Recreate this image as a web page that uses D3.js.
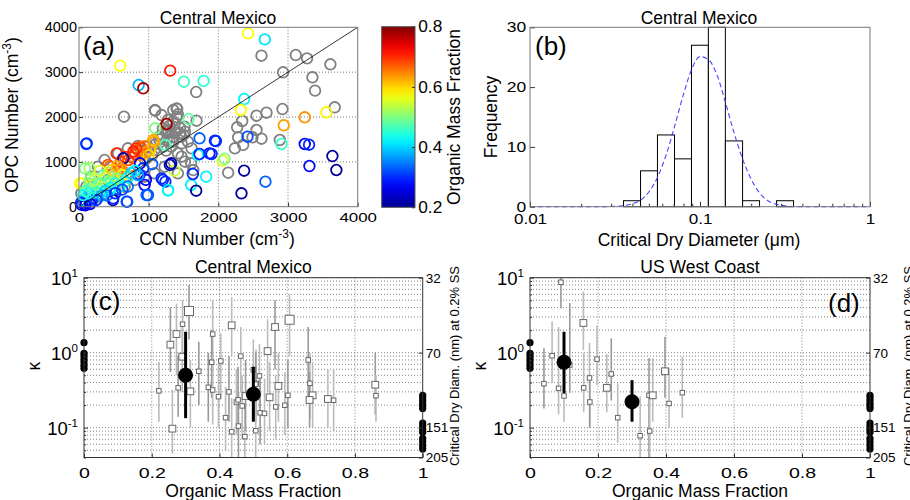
<!DOCTYPE html>
<html>
<head>
<meta charset="utf-8">
<script src="https://cdn.jsdelivr.net/npm/d3@7"></script>
<style>
  body { margin: 0; background: #fff; }
  svg text { font-family: "Liberation Sans", Arial, Helvetica, sans-serif; fill: #000; }
</style>
</head>
<body>
<script>
// ---------- data ----------

// panel (a): CCN vs OPC number, points with no organic fraction are grey
const grayPts = [
  [2619,3367],[3111,3382],[3273,3308],[3608,3175],[2929,2997],[3350,2885],[3388,2587],[2920,2178],
  [2691,2096],[2548,2029],[3670,2216],[2342,1911],[2270,1770],[2548,1710],[2284,1547],[2490,1547],
  [2619,1516],[2356,1376],[2237,1302],[2882,1487],[2141,758],[1682,2557],[645,2007],
  [1090,2155],[1185,2043],[1353,2155],[1401,2192],[1281,1672],[1448,1635],[1520,1672],[1472,1412],
  [1353,1449],[1257,1486],[1209,1337],[1472,1115],[1616,1300],[1640,817],[1520,1003],[1687,1917],
  [1094,2140],[1409,2178],[1419,2060],[1276,1933],[1204,1748],[1157,1561],[1372,1710],[1515,1784],
  [1467,1561],[1563,1450],[1324,1338],[1419,1190],[1085,1264],[989,1338],[846,1353],[702,1302],
  [559,1190],[368,1041],[272,892],[176,669],[105,446],[33,299],[1419,745],[1610,968],[1229,892],
  [1085,745],[942,669],[798,595],[655,446],[512,372],[368,299],[272,223],[607,669],[416,595],
  [1250,1700],[1300,1800],[1350,1900],[1400,2000],[1200,1600],[1150,1500],[1100,1400],[1350,1550],
  [1450,1750],[1380,1650],[1300,1450],[1250,1250],[1050,1150],[950,1050],[1000,1250],[900,1250],[1500,1600]
];
// [ccn, opc, organic mass fraction]
const colorPts = [
  [2428,3864,0.575],[2667,3730,0.41],[593,3144,0.575],[1309,3033,0.71],[1505,2787,0.46],[1788,2803,0.45],
  [856,2713,0.38],[922,2640,0.78],[2370,2401,0.42],[2323,2156,0.575],[1257,1844,0.78],[3240,1993,0.64],
  [3551,2105,0.58],[2939,1815,0.63],[1094,1748,0.5],[1573,1955,0.48],[105,1398,0.32],[1730,1525,0.33],
  [1965,1464,0.3],[2418,1561,0.32],[2906,1398,0.46],[3240,1398,0.28],[3302,1382,0.3],[3637,1130,0.21],
  [3694,818,0.21],[3307,907,0.28],[2370,803,0.21],[2332,299,0.21],[2676,557,0.33],[2060,1026,0.56],
  [2089,1070,0.5],[1706,1153,0.43],[1873,1190,0.28],[1730,1175,0.3],[1825,669,0.42],[1610,484,0.42],
  [1682,357,0.21],[1634,729,0.3],[1276,357,0.46],[1372,803,0.54],[1324,968,0.22],[1204,595,0.3],
  [1240,560,0.3],[942,484,0.28],[990,260,0.32],[692,111,0.32],[487,149,0.21],[43,521,0.575],
  [153,856,0.52],[540,1190,0.7],[416,930,0.68],[1061,1472,0.62],[1237,1376,0.47],[1950,1472,0.3],[1902,1175,0.3],
  [899,1302,0.67],[707,1041,0.68],[444,892,0.67],[636,781,0.66],[1066,1487,0.62],[1018,1264,0.6],
  [760,1100,0.69],[800,1180,0.7],[850,1250,0.68],[880,1330,0.68],[940,1350,0.66],[960,1210,0.63],
  [1000,1150,0.6],[880,1150,0.64],[820,1300,0.7],[780,1230,0.71],[660,1110,0.7],[600,1000,0.69],
  [1080,1440,0.63],[684,669,0.67],[560,820,0.66],[730,900,0.66],[500,750,0.68],
  [636,1079,0.22],[922,856,0.3],[875,968,0.26],[1305,930,0.22],[1186,632,0.3],[1281,372,0.42],
  [684,111,0.32],[492,187,0.3],[970,260,0.33],[444,372,0.42],[870,720,0.3],[960,600,0.27],[1050,950,0.33],
  [86,856,0.5],[14,521,0.575],[158,595,0.5],[229,521,0.52],[62,149,0.4],[110,1413,0.3],
  [100,100,0.3],[150,150,0.33],[80,60,0.28],[200,180,0.35],[250,250,0.36],[120,200,0.38],[180,120,0.3],
  [60,150,0.4],[300,300,0.42],[220,320,0.45],[280,400,0.48],[350,450,0.5],[400,500,0.52],[320,520,0.47],
  [260,480,0.5],[180,420,0.46],[220,600,0.54],[150,520,0.5],[380,650,0.55],[450,600,0.5],[500,700,0.52],
  [420,760,0.5],[350,700,0.48],[300,800,0.55],[480,820,0.6],[550,900,0.62],[600,850,0.64],[620,700,0.58],
  [550,620,0.5],[520,520,0.44],[450,420,0.42],[380,350,0.4],[330,250,0.38],[580,450,0.42],[650,550,0.46],
  [700,650,0.43],[750,750,0.4],[800,800,0.42],[850,700,0.37],[700,450,0.34],[620,380,0.32],[40,40,0.25],
  [30,90,0.3],[90,30,0.27],[160,60,0.26],[250,150,0.3],[400,250,0.34],[520,300,0.3],[140,300,0.42],
  [100,350,0.46],[60,260,0.44]
];
const axisTicksA = [0, 1000, 2000, 3000, 4000];
const cbTicks = [0.2, 0.4, 0.6, 0.8];

// panel (b): histogram of critical dry diameter (um)
const histEdges = [0.0355,0.0447,0.0562,0.0708,0.0891,0.112,0.141,0.178,0.224,0.282,0.355];
const histCounts = [1, 6, 12, 8, 27, 30, 11, 1, 0, 1];
const fitDiam = [0.01,0.02,0.025,0.0316,0.0355,0.0398,0.0447,0.0501,0.0562,0.0631,0.0708,0.0794,0.0891,
                 0.1,0.112,0.126,0.141,0.158,0.178,0.2,0.224,0.251,0.282,0.316,0.4,1];
const fitFreq = [0,0,0,0.05,0.17,0.46,1.1,2.5,4.9,8.6,13.4,18.5,22.9,25.1,24.6,22,17.5,12.5,8,4.6,2.3,1,0.4,0.15,0,0];
const freqTicks = [0, 10, 20, 30];
const diamTicks = [0.01, 0.1, 1];

// panels (c),(d): kappa vs organic mass fraction
const pureKappa0 = [1.36, 0.98, 0.9, 0.82, 0.75, 0.68, 0.62];
const pureKappa1 = [0.27,0.25,0.23,0.21,0.195,0.18,0.115,0.105,0.095,0.087,0.072,0.065,0.058,0.052];

const mexOmf   = [0.31,0.291,0.273,0.255,0.29,0.221,0.278,0.314,0.261,0.339,0.436,0.38,0.377,0.404,0.463,0.367,0.38,
                  0.397,0.428,0.418,0.45,0.455,0.467,0.436,0.456,0.475,0.5,0.477,0.508,0.607,0.564,0.542,0.518,0.507,
                  0.574,0.548,0.602,0.566,0.593,0.52,0.533,0.507,0.662,0.667,0.675,0.666,0.72,0.737,0.86,0.862];
const mexKappa = [3.6,2.4,1.77,1.28,0.885,0.31,0.34,0.305,0.097,0.565,2.32,1.77,0.745,0.775,0.9,0.345,0.318,
                  0.259,0.3,0.136,0.22,0.235,0.195,0.088,0.105,0.076,0.59,0.264,0.39,2.75,2.2,1.05,0.49,0.38,
                  0.36,0.254,0.27,0.189,0.199,0.158,0.155,0.091,0.8,0.39,0.27,0.234,0.241,0.232,0.374,0.267];
const mexLo    = [1.5,0.8,0.5,0.55,0.3,0.12,0.14,0.1,0.045,0.2,0.9,0.55,0.25,0.25,0.3,0.12,0.11,
                  0.1,0.12,0.05,0.08,0.09,0.07,0.04,0.04,0.04,0.2,0.09,0.15,0.9,0.6,0.3,0.18,0.12,
                  0.12,0.09,0.1,0.07,0.08,0.06,0.06,0.04,0.25,0.13,0.1,0.1,0.1,0.09,0.15,0.12];
const mexHi    = [8,5,4.5,4,2.5,0.75,0.9,0.8,0.32,1.4,5.5,5,2,1.8,2.2,1,0.9,
                  0.7,0.9,0.35,0.6,0.65,0.5,0.25,0.3,0.2,1.5,0.8,1.1,6,5,2.8,1.3,1,
                  1,0.75,0.8,0.5,0.55,0.45,0.45,0.25,2.2,1,0.75,0.55,0.6,0.6,1,0.5];
const mexWeight = [3,1,2,2,2,1,1,2,2,1,2,1,1,1,1,1,1,1,1,1,1,1,1,1,1,1,1,2,1,3,2,2,1,1,2,2,1,1,1,1,1,1,1,1,2,2,2,1,2,1];
const mexMeanOmf = [0.3, 0.5];
const mexMeanKappa = [0.5, 0.279];
const mexMeanLo = [0.134, 0.12];
const mexMeanHi = [1.9, 0.65];

const wcOmf   = [0.091,0.157,0.065,0.041,0.084,0.1,0.117,0.158,0.175,0.176,0.197,0.226,0.239,0.258,0.324,0.35,0.361,0.352,0.397,0.409,0.448];
const wcKappa = [8.7,2.49,0.91,0.386,0.335,0.265,0.685,0.34,0.46,0.22,0.82,0.34,0.52,0.136,0.078,0.27,0.27,0.09,0.565,0.21,0.293];
const wcLo    = [3.9,1.09,0.39,0.18,0.15,0.12,0.29,0.16,0.1,0.1,0.37,0.16,0.23,0.063,0.035,0.035,0.12,0.035,0.25,0.1,0.135];
const wcHi    = [10,6.5,2.6,1.15,2.2,1.8,4.6,1,1.35,0.43,2.3,0.95,1.55,0.39,0.26,0.85,0.84,0.25,1.63,0.62,0.88];
const wcWeight = [1,2,1,1,1,1,1,1,1,1,1,2,1,1,1,1,2,1,2,1,1];
const wcMeanOmf = [0.1, 0.3];
const wcMeanKappa = [0.745, 0.222];
const wcMeanLo = [0.29, 0.12];
const wcMeanHi = [1.9, 0.43];

const omfTicks = [0, 0.2, 0.4, 0.6, 0.8, 1];
const kappaDecades = [0.1, 1, 10];
const rightTickKappa = [10, 1, 0.1, 0.04];
const rightTickLabels = ["32", "70", "151", "205"];

// ---------- drawing ----------
const W = 910, H = 500;
const svg = d3.select("body").append("svg").attr("width", W).attr("height", H);

function addText(g, x, y, s, size, anchor, rot) {
  const t = g.append("text")
    .attr("x", x).attr("y", y)
    .attr("font-size", size)
    .attr("text-anchor", anchor || "middle")
    .text(s);
  if (rot) t.attr("transform", `rotate(${rot},${x},${y})`);
  return t;
}
// label with a "-3" superscript like "(cm-3)"
function addUnitLabel(g, x, y, pre, size, rot) {
  const t = g.append("text").attr("x", x).attr("y", y).attr("font-size", size)
    .attr("text-anchor", "middle");
  if (rot) t.attr("transform", `rotate(${rot},${x},${y})`);
  t.append("tspan").text(pre + " (cm");
  t.append("tspan").attr("dy", -7).attr("font-size", size * 0.68).text("-3");
  t.append("tspan").attr("dy", 7).text(")");
  return t;
}
// the original tick labels are drawn a little wider than the font
function styleAxis(g, size, sx) {
  g.attr("font-family", null).attr("font-size", size);
  g.select(".domain").remove();
  g.selectAll(".tick line").attr("stroke", "#333");
  if (sx) g.selectAll(".tick text").attr("transform", `scale(${sx},1)`);
}
function frame(g, box, color) {
  g.append("rect").attr("x", box.l).attr("y", box.t)
    .attr("width", box.r - box.l).attr("height", box.b - box.t)
    .attr("fill", "none").attr("stroke", color).attr("stroke-width", 1);
}

// ----- panel (a) -----
const boxA = {l: 79, r: 357.7, t: 27.3, b: 206.7};
const xA = d3.scaleLinear().domain([0, 4000]).range([boxA.l, boxA.r]);
const yA = d3.scaleLinear().domain([0, 4000]).range([boxA.b, boxA.t]);
const jet = d3.scaleLinear()
  .domain([0, 0.125, 0.375, 0.625, 0.875, 1])
  .range(["#00008f", "#0000ff", "#00ffff", "#ffff00", "#ff0000", "#800000"]);
const omfUnit = d3.scaleLinear().domain([0.2, 0.8]).range([0, 1]).clamp(true);
const gA = svg.append("g");

gA.selectAll("line.gx").data(axisTicksA.slice(1, -1)).join("line")
  .attr("x1", d => xA(d)).attr("x2", d => xA(d)).attr("y1", boxA.t).attr("y2", boxA.b)
  .attr("stroke", "#777").attr("stroke-dasharray", "1,2");
gA.selectAll("line.gy").data(axisTicksA.slice(1, -1)).join("line")
  .attr("y1", d => yA(d)).attr("y2", d => yA(d)).attr("x1", boxA.l).attr("x2", boxA.r)
  .attr("stroke", "#777").attr("stroke-dasharray", "1,2");

gA.append("g").attr("transform", `translate(0,${boxA.b})`)
  .call(d3.axisBottom(xA).tickValues(axisTicksA).tickFormat(d3.format("d")).tickSize(-4).tickSizeOuter(0).tickPadding(6))
  .call(g => styleAxis(g, 13.5, 1.25));
gA.append("g").attr("transform", `translate(${boxA.l},0)`)
  .call(d3.axisLeft(yA).tickValues(axisTicksA).tickFormat(d3.format("d")).tickSize(-4).tickSizeOuter(0).tickPadding(2))
  .call(g => styleAxis(g, 14.5));

gA.selectAll("circle.g").data(grayPts).join("circle")
  .attr("cx", d => xA(d[0])).attr("cy", d => yA(d[1])).attr("r", 5.3)
  .attr("fill", "none").attr("stroke", "#808080").attr("stroke-width", 1.8);
gA.selectAll("circle.c").data(colorPts).join("circle")
  .attr("cx", d => xA(d[0])).attr("cy", d => yA(d[1])).attr("r", 5.3)
  .attr("fill", "none").attr("stroke", d => jet(omfUnit(d[2]))).attr("stroke-width", 1.8);

gA.append("line").attr("x1", xA(0)).attr("y1", yA(0)).attr("x2", xA(4000)).attr("y2", yA(4000))
  .attr("stroke", "#000").attr("stroke-width", 0.8);
frame(gA, boxA, "#777");

addText(gA, 218, 24, "Central Mexico", 17.5);
addText(gA, 83, 55, "(a)", 26, "start");
addUnitLabel(gA, 217, 245, "CCN Number", 17.5);
addUnitLabel(gA, 18, 115, "OPC Number", 17.5, -90);

// colorbar
const cb = {l: 381.7, r: 415, t: 26.7, b: 207.3};
const yCb = d3.scaleLinear().domain([0.2, 0.8]).range([cb.b, cb.t]);
const grad = svg.append("defs").append("linearGradient").attr("id", "jetgrad")
  .attr("x1", 0).attr("y1", 1).attr("x2", 0).attr("y2", 0);
grad.selectAll("stop").data(d3.range(0, 1.0001, 0.05)).join("stop")
  .attr("offset", d => d).attr("stop-color", d => jet(d));
gA.append("rect").attr("x", cb.l).attr("y", cb.t).attr("width", cb.r - cb.l).attr("height", cb.b - cb.t)
  .attr("fill", "url(#jetgrad)").attr("stroke", "#555");
gA.append("g").attr("transform", `translate(${cb.r},0)`)
  .call(d3.axisRight(yCb).tickValues(cbTicks).tickFormat(d3.format(".1f")).tickSize(-3).tickSizeOuter(0).tickPadding(3))
  .call(g => styleAxis(g, 16, 1.08));
addText(gA, 460, 117, "Organic Mass Fraction", 17.5, "middle", -90);

// ----- panel (b) -----
const boxB = {l: 530, r: 870, t: 27.3, b: 206.7};
const xB = d3.scaleLog().domain([0.01, 1]).range([boxB.l, boxB.r]);
const yB = d3.scaleLinear().domain([0, 30]).range([boxB.b, boxB.t]);
const gB = svg.append("g");
const binIdx = d3.range(histCounts.length);
gB.selectAll("rect.bar").data(binIdx).join("rect")
  .attr("x", i => xB(histEdges[i])).attr("width", i => xB(histEdges[i + 1]) - xB(histEdges[i]))
  .attr("y", i => yB(histCounts[i])).attr("height", i => yB(0) - yB(histCounts[i]))
  .attr("fill", "#fff").attr("stroke", "#000").attr("stroke-width", 1);
gB.append("path").datum(fitDiam.map((d, i) => [d, fitFreq[i]]))
  .attr("d", d3.line().x(d => xB(d[0])).y(d => yB(d[1])).curve(d3.curveMonotoneX))
  .attr("fill", "none").attr("stroke", "#4545ff").attr("stroke-width", 1.1).attr("stroke-dasharray", "5,3");

const minorB = [];
[0.01, 0.1].forEach(dec => { for (let k = 2; k <= 9; k++) minorB.push(dec * k); });
gB.append("g").attr("transform", `translate(0,${boxB.b})`)
  .call(d3.axisBottom(xB).tickValues(minorB).tickFormat("").tickSize(-3).tickSizeOuter(0))
  .call(g => styleAxis(g, 16));
gB.append("g").attr("transform", `translate(0,${boxB.b})`)
  .call(d3.axisBottom(xB).tickValues(diamTicks).tickFormat(d => String(d)).tickSize(-5).tickSizeOuter(0).tickPadding(7))
  .call(g => styleAxis(g, 14, 1.22));
gB.append("g").attr("transform", `translate(${boxB.l},0)`)
  .call(d3.axisLeft(yB).tickValues(freqTicks).tickSize(-5).tickSizeOuter(0).tickPadding(3))
  .call(g => styleAxis(g, 14, 1.25));
frame(gB, boxB, "#777");
addText(gB, 699, 24, "Central Mexico", 17.5);
addText(gB, 535, 55, "(b)", 26, "start");
addText(gB, 699, 246, "Critical Dry Diameter (\u03bcm)", 17.5);
addText(gB, 497, 117, "Frequency", 17.5, "middle", -90);

// ----- panels (c) and (d) -----
function kappaPanel(box, title, tag, tagX, tagY, omf, kap, lo, hi, wt, mOmf, mKap, mLo, mHi, rightLabelX) {
  const g = svg.append("g");
  const x = d3.scaleLinear().domain([0, 1]).range([box.l, box.r]);
  const y = d3.scaleLog().domain([0.04, 10]).range([box.b, box.t]);
  const side = d3.scaleLinear().domain([1, 3]).range([4.5, 9]);

  const gridK = [];
  [0.01, 0.1, 1].forEach(dec => { for (let k = 1; k <= 9; k++) { const v = +(dec * k).toPrecision(3); if (v >= 0.04 && v <= 10) gridK.push(v); } });
  gridK.push(10);
  g.selectAll("line.gk").data(gridK).join("line")
    .attr("x1", box.l).attr("x2", box.r).attr("y1", d => y(d)).attr("y2", d => y(d))
    .attr("stroke", "#666").attr("stroke-width", 0.8).attr("stroke-dasharray", "1,2");
  g.selectAll("line.go").data(omfTicks.slice(1, -1)).join("line")
    .attr("x1", d => x(d)).attr("x2", d => x(d)).attr("y1", box.t).attr("y2", box.b)
    .attr("stroke", "#666").attr("stroke-width", 0.8).attr("stroke-dasharray", "1,2");

  const idx = d3.range(omf.length);
  g.selectAll("line.err").data(idx).join("line")
    .attr("x1", i => x(omf[i])).attr("x2", i => x(omf[i]))
    .attr("y1", i => y(Math.max(lo[i], 0.04))).attr("y2", i => y(Math.min(hi[i], 10)))
    .attr("stroke", (i) => i % 3 === 0 ? "#999" : "#bbb").attr("stroke-width", 1.6);
  g.selectAll("rect.sq").data(idx).join("rect")
    .attr("x", i => x(omf[i]) - side(wt[i]) / 2).attr("y", i => y(kap[i]) - side(wt[i]) / 2)
    .attr("width", i => side(wt[i])).attr("height", i => side(wt[i]))
    .attr("fill", "#fff").attr("stroke", "#666").attr("stroke-width", 1);

  const mIdx = d3.range(mOmf.length);
  g.selectAll("line.merr").data(mIdx).join("line")
    .attr("x1", i => x(mOmf[i])).attr("x2", i => x(mOmf[i]))
    .attr("y1", i => y(mLo[i])).attr("y2", i => y(mHi[i]))
    .attr("stroke", "#000").attr("stroke-width", 3);
  g.selectAll("circle.m").data(mIdx).join("circle")
    .attr("cx", i => x(mOmf[i])).attr("cy", i => y(mKap[i])).attr("r", 7.5).attr("fill", "#000");

  g.selectAll("circle.p0").data(pureKappa0).join("circle")
    .attr("cx", x(0)).attr("cy", d => y(d)).attr("r", 3.6).attr("fill", "#000");
  g.selectAll("circle.p1").data(pureKappa1).join("circle")
    .attr("cx", x(1)).attr("cy", d => y(d)).attr("r", 3.6).attr("fill", "#000");

  // axes
  g.append("g").attr("transform", `translate(0,${box.b})`)
    .call(d3.axisBottom(x).tickValues(omfTicks).tickFormat(d => d === 0 || d === 1 ? String(d) : d3.format(".1f")(d))
      .tickSize(-4).tickSizeOuter(0).tickPadding(10))
    .call(a => styleAxis(a, 14.5, 1.35));
  const minorK = gridK.filter(v => kappaDecades.indexOf(v) < 0);
  g.append("g").attr("transform", `translate(${box.l},0)`)
    .call(d3.axisLeft(y).tickValues(minorK).tickFormat("").tickSize(-2).tickSizeOuter(0))
    .call(a => styleAxis(a, 16));
  const ya = g.append("g").attr("transform", `translate(${box.l},0)`)
    .call(d3.axisLeft(y).tickValues(kappaDecades).tickFormat("").tickSize(-4).tickSizeOuter(0).tickPadding(6))
    .call(a => styleAxis(a, 18.5));
  ya.selectAll(".tick text").each(function(d) {
    const t = d3.select(this).attr("dy", "0.38em");
    t.append("tspan").text("10");
    t.append("tspan").attr("dy", -8).attr("font-size", 11.5).text(String(Math.round(Math.log10(d))));
  });
  g.append("g").attr("transform", `translate(${box.r},0)`)
    .call(d3.axisRight(y).tickValues(rightTickKappa).tickFormat((d, i) => rightTickLabels[i])
      .tickSize(-4).tickSizeOuter(0).tickPadding(3))
    .call(a => styleAxis(a, 13.5));
  frame(g, box, "#333");

  addText(g, (box.l + box.r) / 2, 273.3, title, 17.5);
  addText(g, tagX, tagY, tag, 26, "start");
  addText(g, (box.l + box.r) / 2, 496.7, "Organic Mass Fraction", 17.5);
  addText(g, box.l - 44, 366, "\u03ba", 17.5, "middle", -90);
  addText(g, rightLabelX, 366, "Critical Dry Diam. (nm) at 0.2% SS", 13, "middle", -90);
}

kappaPanel({l: 84, r: 422.7, t: 277.7, b: 457.5}, "Central Mexico", "(c)", 90, 310,
  mexOmf, mexKappa, mexLo, mexHi, mexWeight, mexMeanOmf, mexMeanKappa, mexMeanLo, mexMeanHi, 459);
kappaPanel({l: 530, r: 870, t: 277.7, b: 457.5}, "US West Coast", "(d)", 828, 312,
  wcOmf, wcKappa, wcLo, wcHi, wcWeight, wcMeanOmf, wcMeanKappa, wcMeanLo, wcMeanHi, 913);
</script>
</body>
</html>
